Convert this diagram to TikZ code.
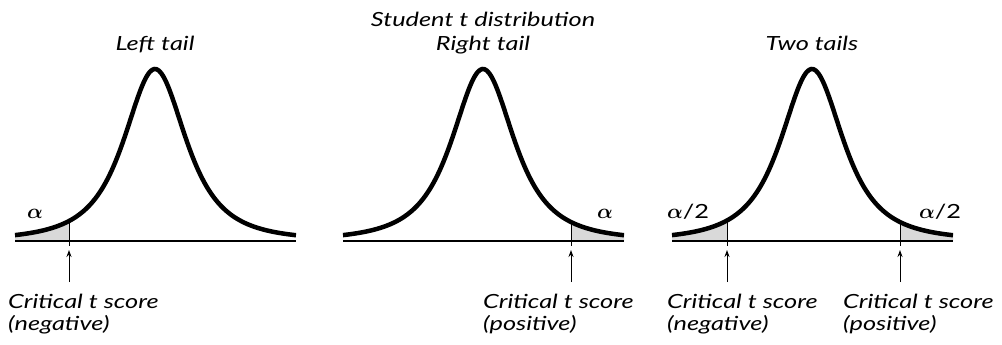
\documentclass[tikz,border=0pt]{standalone}
\usepackage{fontspec}
\usepackage{bm}
\usetikzlibrary{arrows.meta}
\newfontfamily\hand{Lato}[FakeStretch=1.3]
\begin{document}
\begin{tikzpicture}[x=1pt, y=-1pt,
  declare function={dens(\u)=241-172*(1+(\u/34)*(\u/34)/2)^(-1.5);},
  lbl/.style={font=\hand\itshape\fontsize{19.5}{22}\selectfont, inner sep=0pt},
  crit/.style={lbl, anchor=north west, align=left},
  greek/.style={inner sep=0pt, anchor=base, font=\fontsize{22}{26}\selectfont},
  tail/.style={fill=black!15},
  curve/.style={line width=4.5pt},
  axis/.style={line width=1.1pt},
  cutline/.style={line width=0.8pt},
  pointer/.style={-{Stealth[length=7pt,width=5pt]}, line width=1pt}]
\useasboundingbox (0,0) rectangle (1002,345);
% shaded tails
\fill[tail] plot[domain=-140:-86, samples=40, smooth] ({155+\x},{dens(\x)}) -- (69,241) -- (15,241) -- cycle;
\fill[tail] plot[domain=88:141, samples=40, smooth] ({483+\x},{dens(\x)}) -- (624,241) -- (571,241) -- cycle;
\fill[tail] plot[domain=-140:-85, samples=40, smooth] ({812+\x},{dens(\x)}) -- (727,241) -- (672,241) -- cycle;
\fill[tail] plot[domain=88:141, samples=40, smooth] ({812+\x},{dens(\x)}) -- (953,241) -- (900,241) -- cycle;
% axes and curves
\foreach \cx in {155,483,812} {
  \draw[axis] (\cx-140,241) -- (\cx+141,241);
  \draw[curve] plot[domain=-140:141, samples=120, smooth] ({\cx+\x},{dens(\x)});
}
% critical values
\draw[cutline] (69,{dens(-86)}) -- (69,246);
\draw[cutline] (571,{dens(88)}) -- (571,246);
\draw[cutline] (727,{dens(-85)}) -- (727,246);
\draw[cutline] (900,{dens(88)}) -- (900,246);
% titles
\node[lbl, anchor=base] (title) at (483,27) {Student t distribution};
\node[lbl, anchor=base] (left) at (155,51) {Left tail};
\node[lbl, anchor=base] (right) at (483,51) {Right tail};
\node[lbl, anchor=base] (two) at (812,51) {Two tails};
% areas
\node[greek] (a1) at (35,218) {$\bm\alpha$};
\node[greek] (a2) at (605,218) {$\bm\alpha$};
\node[greek] (a3) at (688,218) {$\bm\alpha${\hand\fontsize{19.5}{22}\selectfont/2}};
\node[greek] (a4) at (940,218) {$\bm\alpha${\hand\fontsize{19.5}{22}\selectfont/2}};
% labels and pointers
\node[crit] (c1) at (8,294) {Critical t score\\(negative)};
\node[crit] (c2) at (483,294) {Critical t score\\(positive)};
\node[crit] (c3) at (667,294) {Critical t score\\(negative)};
\node[crit] (c4) at (843,294) {Critical t score\\(positive)};
\coordinate (p1) at (69,282); \coordinate (q1) at (69,250);
\coordinate (p2) at (571,282); \coordinate (q2) at (571,250);
\coordinate (p3) at (727,282); \coordinate (q3) at (727,250);
\coordinate (p4) at (900,282); \coordinate (q4) at (900,250);
\draw[pointer] (p1) -- (q1);
\draw[pointer] (p2) -- (q2);
\draw[pointer] (p3) -- (q3);
\draw[pointer] (p4) -- (q4);
\end{tikzpicture}
\end{document}
